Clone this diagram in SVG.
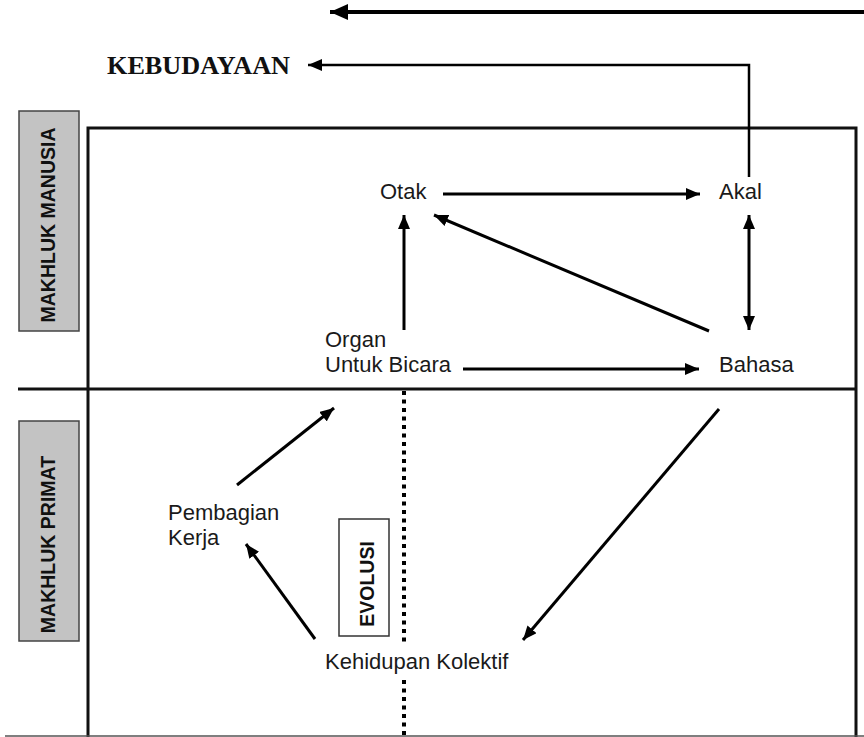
<svg xmlns="http://www.w3.org/2000/svg" width="864" height="737" viewBox="0 0 864 737">
  <defs>
    <style>
      .frame { fill: none; stroke: #111; stroke-width: 3; }
      .edge { fill: none; stroke: #000; stroke-width: 3; }
      .thin { fill: none; stroke: #000; stroke-width: 2.5; }
      .lbl { font-family: "Liberation Sans", Arial, sans-serif; font-size: 22px; fill: #1a1a1a; }
      .side { font-family: "Liberation Sans", Arial, sans-serif; font-size: 19.5px; font-weight: bold; fill: #111; text-anchor: middle; }
      .title { font-family: "Liberation Serif", "Times New Roman", serif; font-size: 25px; font-weight: bold; fill: #111; }
      .tag { fill: #c3c3c3; stroke: #444; stroke-width: 1.5; }
      .dots { fill: none; stroke: #000; stroke-width: 4; stroke-dasharray: 4 4.5; }
    </style>
    <marker id="ah" markerUnits="userSpaceOnUse" markerWidth="14" markerHeight="12" refX="14" refY="6" orient="auto">
      <path d="M0,0 L14,6 L0,12 z" fill="#000"/>
    </marker>
    <marker id="ahs" markerUnits="userSpaceOnUse" markerWidth="14" markerHeight="12" refX="0" refY="6" orient="auto">
      <path d="M14,0 L0,6 L14,12 z" fill="#000"/>
    </marker>
    <marker id="ahbig" markerUnits="userSpaceOnUse" markerWidth="18" markerHeight="16" refX="18" refY="8" orient="auto">
      <path d="M0,0 L18,8 L0,16 z" fill="#000"/>
    </marker>
  </defs>

  <rect width="864" height="737" fill="#fff"/>

  <!-- frame: outer box, band divider, bottom rule, dotted evolution axis -->
  <g id="frame">
    <path class="frame" d="M88,737 V128 H856 V737"/>
    <line class="frame" x1="18" y1="389" x2="856" y2="389"/>
    <line x1="5" y1="736" x2="864" y2="736" stroke="#555" stroke-width="1.5"/>
    <line class="dots" x1="404" y1="391" x2="404" y2="642"/>
    <line class="dots" x1="404" y1="680" x2="404" y2="737"/>
  </g>

  <!-- side labels -->
  <g id="band-manusia">
    <rect class="tag" x="19" y="111" width="60" height="220"/>
    <text class="side" transform="translate(55,225) rotate(-90)">MAKHLUK MANUSIA</text>
  </g>
  <g id="band-primat">
    <rect class="tag" x="19" y="421" width="60" height="220"/>
    <text class="side" transform="translate(55,544.5) rotate(-90)">MAKHLUK PRIMAT</text>
  </g>
  <g id="evolusi">
    <rect x="339" y="519" width="50" height="117" fill="#fff" stroke="#333" stroke-width="1.5"/>
    <text class="side" transform="translate(374,584) rotate(-90)">EVOLUSI</text>
  </g>

  <!-- nodes -->
  <g id="kebudayaan">
    <text class="title" x="107" y="74" textLength="183" lengthAdjust="spacingAndGlyphs">KEBUDAYAAN</text>
  </g>
  <g id="otak"><text class="lbl" x="380" y="199">Otak</text></g>
  <g id="akal"><text class="lbl" x="719" y="199">Akal</text></g>
  <g id="organ">
    <text class="lbl" x="325" y="347">Organ</text>
    <text class="lbl" x="325" y="372">Untuk Bicara</text>
  </g>
  <g id="bahasa"><text class="lbl" x="719" y="372">Bahasa</text></g>
  <g id="pembagian">
    <text class="lbl" x="168" y="520">Pembagian</text>
    <text class="lbl" x="168" y="545">Kerja</text>
  </g>
  <g id="kehidupan"><text class="lbl" x="325" y="669">Kehidupan Kolektif</text></g>

  <!-- connectors -->
  <g id="connectors">
    <line x1="864" y1="12" x2="330" y2="12" stroke="#000" stroke-width="4" marker-end="url(#ahbig)"/>
    <path class="thin" d="M749,177 V65 H308" marker-end="url(#ah)"/>
    <line class="edge" x1="443" y1="194" x2="700" y2="194" marker-end="url(#ah)"/>
    <line class="edge" x1="404" y1="330" x2="404" y2="215" marker-end="url(#ah)"/>
    <line class="edge" x1="463" y1="369" x2="699" y2="369" marker-end="url(#ah)"/>
    <line class="edge" x1="709" y1="331" x2="434" y2="215" marker-end="url(#ah)"/>
    <line class="edge" x1="749" y1="215" x2="749" y2="330" marker-start="url(#ahs)" marker-end="url(#ah)"/>
    <line class="edge" x1="237" y1="485" x2="334" y2="408" marker-end="url(#ah)"/>
    <line class="edge" x1="315" y1="639" x2="246" y2="544" marker-end="url(#ah)"/>
    <line class="edge" x1="719" y1="409" x2="523" y2="640" marker-end="url(#ah)"/>
  </g>
</svg>
